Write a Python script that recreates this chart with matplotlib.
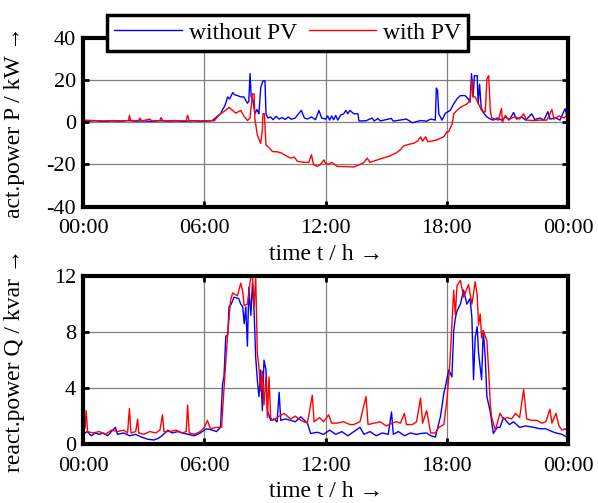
import numpy as np
import matplotlib
matplotlib.use('Agg')
import matplotlib.pyplot as plt

plt.rcParams['font.family'] = ['Liberation Serif', 'DejaVu Serif']
plt.rcParams['axes.unicode_minus'] = False

# active power P / kW (top)
p_wo_h = [0.0, 0.3, 0.6, 1.0, 1.4, 1.8, 2.2, 2.6, 3.0, 3.4, 3.8, 4.2, 4.6, 5.0, 5.4, 5.8, 6.2, 6.4, 6.6, 6.8,
          6.9, 6.97, 7.06, 7.15, 7.25, 7.4, 7.5, 7.64, 7.8, 7.95, 8.13, 8.2, 8.26, 8.32, 8.4, 8.5, 8.6, 8.7, 8.79, 8.9,
          9.0, 9.05, 9.15, 9.28, 9.4, 9.55, 9.7, 9.85, 10.0, 10.15, 10.3, 10.5, 10.7, 10.8, 10.95, 11.1, 11.3, 11.5, 11.67, 11.8,
          12.0, 12.1, 12.2, 12.3, 12.4, 12.5, 12.6, 12.75, 12.9, 13.0, 13.1, 13.2, 13.4, 13.6, 13.65, 14.0, 14.3, 14.4, 14.6, 14.7,
          15.25, 15.35, 16.0, 16.3, 16.5, 16.7, 17.0, 17.2, 17.43, 17.48, 17.54, 17.6, 17.76, 17.93, 18.17, 18.34, 18.5, 18.67, 18.9, 19.07,
          19.15, 19.22, 19.3, 19.36, 19.5, 19.55, 19.62, 19.7, 19.8, 19.98, 20.15, 20.3, 20.5, 20.7, 20.9, 21.1, 21.3, 21.45, 21.7, 21.9,
          22.2, 22.35, 22.6, 22.8, 23.0, 23.1, 23.4, 23.6, 23.85, 23.95, 24.0]
p_wo = [0.8, 0.5, 0.7, 0.4, 0.6, 0.5, 0.8, 0.5, 0.6, 0.4, 0.7, 0.5, 0.6, 0.4, 0.7, 0.5, 0.6, 0.8, 2.5, 4.0,
        6.0, 7.0, 9.0, 12.0, 11.0, 14.0, 13.0, 12.6, 12.0, 12.0, 9.0, 10.0, 23.0, 12.0, 11.0, 4.0, 6.0, 4.0, 16.5, 19.6,
        19.6, 4.0, 2.0, 2.5, 1.2, 2.8, 1.5, 2.2, 1.3, 2.5, 1.4, 2.0, 4.5, 5.6, 2.0, 1.5, 2.5, 1.2, 5.6, 2.0,
        1.5, 3.0, 1.0, 3.0, 1.2, 3.2, 1.0, 3.5, 4.0, 5.6, 4.0, 5.6, 4.0, 4.0, 0.6, 0.7, 2.0, 0.6, 1.8, 0.6,
        1.8, 0.5, 1.5, -0.3, 0.3, 0.8, 0.5, 1.5, 1.0, 16.2, 15.0, 4.0, 1.0, 4.3, 5.6, 8.7, 11.0, 12.6, 12.6, 11.0,
        9.5, 23.0, 12.0, 22.0, 22.0, 8.7, 18.0, 7.0, 4.6, 2.5, 1.5, 1.0, 2.0, 1.0, 2.5, 1.2, 4.6, 1.5, 2.5, 1.0,
        4.0, 1.2, 2.0, 1.0, 5.0, 1.5, 2.0, 1.0, 6.4, 2.5, 3.0]

p_pv_h = [0.0, 0.08, 0.5, 1.0, 1.5, 2.0, 2.25, 2.29, 2.35, 2.75, 2.8, 2.9, 3.3, 3.4, 3.8, 3.85, 3.95, 4.5, 5.1, 5.17,
          5.25, 5.8, 6.2, 6.5, 6.65, 6.8, 7.05, 7.22, 7.4, 7.55, 7.8, 7.95, 8.13, 8.26, 8.38, 8.46, 8.5, 8.62, 8.79, 8.87,
          8.9, 8.97, 9.05, 9.2, 9.37, 9.6, 9.8, 10.1, 10.3, 10.45, 10.6, 10.93, 11.17, 11.3, 11.4, 11.59, 11.75, 11.92, 12.0, 12.15,
          12.3, 12.57, 13.0, 13.4, 13.7, 13.9, 14.06, 14.2, 14.5, 14.7, 15.0, 15.2, 15.5, 15.7, 15.87, 16.1, 16.35, 16.55, 16.7, 16.8,
          16.95, 17.05, 17.2, 17.5, 17.84, 18.0, 18.09, 18.27, 18.34, 18.5, 18.67, 19.0, 19.15, 19.24, 19.3, 19.4, 19.55, 19.72, 19.9, 19.98,
          20.07, 20.15, 20.22, 20.4, 20.55, 20.7, 20.75, 20.9, 21.05, 21.2, 21.4, 21.6, 21.8, 21.95, 22.3, 22.6, 22.95, 23.2, 23.3, 23.55,
          23.8, 24.0]
p_pv = [3.3, 1.0, 0.8, 0.6, 0.8, 0.6, 0.8, 3.3, 0.8, 0.7, 2.0, 0.6, 1.5, 0.6, 0.8, 2.2, 0.7, 0.8, 0.6, 3.3,
        0.7, 0.6, 0.8, 0.7, 2.5, 4.0, 5.6, 7.0, 5.6, 4.3, 5.6, 3.0, 0.8, 2.0, 13.4, 13.4, 1.6, -6.0, -10.0, -3.7,
        4.0, 4.0, -10.8, -12.0, -13.9, -14.0, -14.5, -16.2, -17.0, -16.5, -18.5, -19.0, -19.0, -15.4, -20.0, -20.9, -20.0, -17.8, -19.5, -20.0,
        -19.0, -20.9, -21.0, -21.2, -20.0, -19.0, -17.0, -19.0, -18.0, -17.4, -16.5, -15.9, -14.5, -13.0, -11.2, -10.5, -10.0, -9.0, -6.9, -9.0,
        -6.9, -9.2, -9.0, -8.4, -6.9, -4.6, -4.5, -0.6, 4.0, 5.6, 7.0, 8.7, 10.3, 20.4, 12.0, 12.0, 9.0, 5.6, 4.8, 20.4,
        22.0, 5.6, 2.0, 1.5, 1.0, 6.5, 0.0, 3.3, 1.0, 2.0, 2.5, 1.5, 4.0, 1.0, 0.8, 1.0, 1.0, 6.0, 1.5, 3.0,
        2.0, 4.0]

# reactive power Q / kvar (bottom)
q_wo_h = [0.0, 0.2, 0.4, 0.6, 0.8, 1.0, 1.2, 1.4, 1.6, 1.7, 2.0, 2.3, 2.6, 2.9, 3.2, 3.5, 3.7, 3.9, 4.2, 4.4,
          4.7, 4.9, 5.2, 5.5, 5.8, 6.1, 6.4, 6.6, 6.8, 6.9, 6.97, 7.06, 7.16, 7.22, 7.33, 7.47, 7.7, 7.8, 7.9, 7.97,
          8.05, 8.13, 8.2, 8.3, 8.38, 8.46, 8.54, 8.62, 8.7, 8.79, 8.87, 8.95, 9.05, 9.12, 9.28, 9.45, 9.6, 9.7, 9.78, 10.0,
          10.27, 10.5, 10.77, 11.1, 11.26, 11.6, 11.9, 12.2, 12.5, 12.8, 13.1, 13.4, 13.7, 13.9, 14.2, 14.5, 14.8, 15.1, 15.26, 15.35,
          15.6, 15.9, 16.2, 16.5, 16.7, 17.0, 17.2, 17.43, 17.68, 17.85, 18.1, 18.25, 18.34, 18.42, 18.5, 18.67, 18.83, 18.99, 19.15, 19.24,
          19.32, 19.4, 19.5, 19.57, 19.72, 19.8, 19.9, 19.98, 20.15, 20.3, 20.5, 20.63, 20.8, 21.1, 21.3, 21.6, 21.9, 22.3, 22.6, 22.9,
          23.2, 23.4, 23.7, 23.93, 23.95, 24.0]
q_wo = [0.7, 0.9, 0.6, 0.8, 0.7, 0.8, 0.6, 0.9, 1.2, 0.7, 0.8, 0.6, 0.7, 0.5, 0.35, 0.3, 0.4, 0.6, 1.0, 0.8,
        0.9, 0.8, 0.7, 0.6, 0.8, 1.1, 1.0, 0.9, 1.2, 4.3, 4.8, 7.7, 7.8, 9.8, 10.0, 10.5, 10.4, 10.0, 9.8, 8.6,
        9.8, 7.0, 11.2, 9.2, 11.5, 9.5, 6.2, 4.6, 3.4, 5.3, 2.4, 6.0, 5.3, 2.4, 1.7, 1.8, 1.6, 3.7, 1.7, 1.8,
        1.7, 1.6, 1.95, 1.5, 0.76, 0.85, 0.7, 1.0, 0.7, 0.9, 0.6, 0.9, 1.2, 0.7, 0.9, 0.6, 0.8, 0.7, 2.3, 0.7,
        0.9, 0.6, 0.8, 0.7, 0.76, 0.8, 0.6, 0.5, 1.95, 3.6, 5.3, 4.8, 8.1, 9.0, 9.5, 10.0, 11.0, 10.0, 10.4, 9.0,
        4.6, 7.6, 8.4, 6.5, 4.6, 8.1, 6.2, 3.4, 2.3, 0.76, 1.2, 1.2, 1.9, 1.4, 1.6, 1.2, 1.3, 1.2, 1.1, 1.1,
        0.9, 0.8, 0.7, 0.5, 1.3, 0.6]

q_pv_h = [0.0, 0.1, 0.15, 0.22, 0.5, 0.8, 1.1, 1.4, 1.7, 2.0, 2.2, 2.29, 2.37, 2.6, 2.7, 2.75, 3.0, 3.3, 3.6, 3.8,
          3.93, 4.0, 4.3, 4.6, 4.9, 5.1, 5.17, 5.25, 5.5, 5.8, 6.0, 6.15, 6.3, 6.6, 6.85, 7.0, 7.16, 7.3, 7.4, 7.64,
          7.8, 7.9, 7.97, 8.13, 8.3, 8.38, 8.46, 8.54, 8.62, 8.7, 8.79, 8.87, 8.95, 9.05, 9.12, 9.2, 9.28, 9.37, 9.6, 9.94,
          10.27, 10.5, 10.77, 11.1, 11.34, 11.43, 11.7, 11.9, 12.15, 12.3, 12.57, 12.9, 13.2, 13.4, 13.7, 14.0, 14.1, 14.4, 14.7, 15.0,
          15.3, 15.5, 15.7, 15.9, 16.0, 16.3, 16.5, 16.7, 16.8, 17.0, 17.2, 17.43, 17.6, 17.85, 18.0, 18.15, 18.34, 18.42, 18.5, 18.67,
          18.83, 19.07, 19.24, 19.4, 19.5, 19.57, 19.65, 19.72, 19.8, 19.98, 20.07, 20.15, 20.22, 20.4, 20.63, 20.8, 21.0, 21.2, 21.4, 21.6,
          21.8, 21.95, 22.2, 22.45, 22.7, 22.9, 23.1, 23.2, 23.4, 23.55, 23.7, 23.85, 24.0]
q_pv = [0.9, 1.2, 2.4, 0.9, 0.8, 0.9, 0.7, 1.0, 0.9, 1.0, 0.8, 2.55, 0.8, 0.9, 1.8, 0.8, 0.7, 0.9, 0.8, 1.0,
        2.1, 0.9, 0.9, 1.0, 0.8, 0.9, 2.8, 0.8, 0.7, 0.9, 1.2, 1.7, 1.1, 1.2, 1.2, 4.6, 8.0, 10.3, 10.8, 10.6,
        11.5, 10.9, 9.9, 10.0, 12.0, 12.0, 9.8, 12.0, 6.5, 5.5, 3.8, 5.2, 2.8, 4.8, 1.9, 4.8, 1.9, 1.7, 1.9, 2.2,
        1.8, 2.0, 1.7, 1.5, 3.5, 1.6, 1.9, 1.6, 2.1, 1.5, 1.5, 1.6, 1.4, 1.4, 1.6, 3.4, 1.4, 1.5, 1.6, 1.3,
        1.5, 1.6, 1.5, 2.2, 1.4, 1.4, 1.6, 3.3, 1.5, 2.4, 0.8, 0.8, 1.2, 1.4, 3.1, 5.8, 11.0, 9.2, 11.3, 11.7,
        10.5, 11.4, 10.0, 11.6, 10.7, 8.5, 9.3, 7.6, 8.1, 7.4, 5.2, 2.8, 1.9, 1.0, 2.2, 1.8, 1.9, 1.8, 2.2, 1.9,
        3.9, 1.8, 1.7, 1.7, 1.5, 1.6, 2.5, 1.5, 2.2, 1.3, 1.0, 1.1, 0.9]

x_ticks = [0, 6, 12, 18, 24]
x_labels = ['00:00', '06:00', '12:00', '18:00', '00:00']


def style_axes(ax):
    # matlab-like look: thick box, ticks inside on all sides, grey grid
    ax.set_xlim(0, 24)
    ax.set_xticks(x_ticks)
    ax.set_xticklabels(x_labels)
    ax.grid(True, color='0.5', linewidth=0.9)
    ax.set_axisbelow(True)
    for s in ax.spines.values():
        s.set_linewidth(3)
    ax.tick_params(direction='in', top=True, right=True, length=4, width=2, labelsize=16)
    ax.tick_params(axis='x', pad=9)
    ax.tick_params(axis='y', pad=5)
    ax.set_xlabel('time t / h \u2192', fontsize=17, labelpad=4)
    ax.yaxis.set_label_coords(-0.12, 0.5)


fig = plt.figure(figsize=(5.98, 5.03), dpi=100)

ax1 = fig.add_axes([0.139, 0.589, 0.811, 0.336])
l1, = ax1.plot(p_wo_h, p_wo, color='#0000ff', linewidth=1.0)
l2, = ax1.plot(p_pv_h, p_pv, color='#ff0000', linewidth=1.0)
ax1.set_ylim(-40, 40)
ax1.set_yticks([-40, -20, 0, 20, 40])
ax1.set_ylabel('act.power P / kW \u2192', fontsize=17)
style_axes(ax1)

ax2 = fig.add_axes([0.139, 0.117, 0.811, 0.334])
ax2.plot(q_wo_h, q_wo, color='#0000ff', linewidth=1.0)
ax2.plot(q_pv_h, q_pv, color='#ff0000', linewidth=1.0)
ax2.set_ylim(0, 12)
ax2.set_yticks([0, 4, 8, 12])
ax2.set_ylabel('react.power Q / kvar \u2192', fontsize=17)
style_axes(ax2)

leg = fig.legend([l1, l2], ['without PV', 'with PV'], loc='upper center', bbox_to_anchor=(0.481, 0.970),
                 ncol=2, fontsize=17, handlelength=2.85, handletextpad=0.3, columnspacing=0.5,
                 borderpad=0.3, borderaxespad=0, fancybox=False, framealpha=1, edgecolor='black')
leg.get_frame().set_linewidth(2.5)

fig.savefig('out.png', dpi=100)
